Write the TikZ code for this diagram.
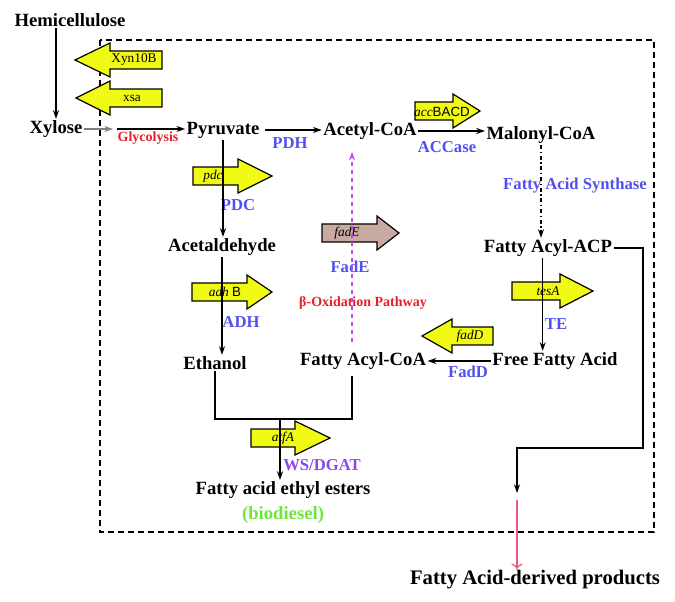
\documentclass[tikz,border=0pt]{standalone}
\usepackage{fontspec}
\setmainfont{Liberation Serif}
\newfontfamily\genesf{Liberation Sans}
\usepackage{tikz}
\usetikzlibrary{arrows.meta, positioning, calc}
\definecolor{enzblue}{RGB}{80,80,240}
\definecolor{pathred}{RGB}{230,30,40}
\definecolor{geneyellow}{RGB}{240,250,20}
\definecolor{fadbrown}{RGB}{200,170,160}
\definecolor{betaviolet}{RGB}{190,70,255}
\definecolor{wsviolet}{RGB}{140,70,240}
\definecolor{biogreen}{RGB}{110,230,60}
\definecolor{outred}{RGB}{235,90,120}

% gene arrow: tail x, neck x, tip x, middle y, fill
\newcommand{\genearrow}[5]{%
  \filldraw[fill=#5, draw=black, line width=0.9pt, line join=miter]
    ({#1},{#4-9}) -- ({#2},{#4-9}) -- ({#2},{#4-17}) -- ({#3},{#4})
    -- ({#2},{#4+17}) -- ({#2},{#4+9}) -- ({#1},{#4+9}) -- cycle;}

\begin{document}
\begin{tikzpicture}[x=0.75pt, y=-0.75pt,
  met/.style={font=\fontsize{14}{16}\selectfont\bfseries, inner sep=1pt},
  enz/.style={font=\fontsize{12.5}{14}\selectfont\bfseries, text=enzblue, inner sep=0pt},
  path/.style={font=\fontsize{10.5}{12}\selectfont\bfseries, text=pathred, inner sep=0pt},
  gene/.style={font=\fontsize{10}{12}\selectfont, inner sep=0pt},
  flux/.style={line width=1pt, -{Stealth[length=6.5pt, width=4.5pt]}},
  link/.style={line width=1pt}]
\useasboundingbox (0,0) rectangle (675,602);

% engineered cell
\draw[dashed, line width=1pt, dash pattern=on 4.5pt off 3pt] (100,40) rectangle (654,532);

% gene arrows
\genearrow{162}{110}{75}{60}{geneyellow}
\genearrow{162}{110}{76}{98}{geneyellow}
\genearrow{415}{453}{480}{111}{geneyellow}
\genearrow{193}{238}{272}{176}{geneyellow}
\genearrow{192}{247}{272}{292}{geneyellow}
\genearrow{322}{377}{399}{233}{fadbrown}
\genearrow{512}{560}{593}{291}{geneyellow}
\genearrow{493}{452}{422}{336}{geneyellow}
\genearrow{251}{295}{330}{438}{geneyellow}

\node[gene] (xyn) at (134,60) {Xyn10B};
\node[gene] (xsa) at (132,98) {xsa};
\node[gene] (acc) at (442,112) {\textit{acc}{\genesf BACD}};
\node[gene] (pdc) at (213,176) {\textit{pdc}};
\node[gene] (adh) at (225,292) {\textit{adh} {\genesf B}};
\node[gene] (fade) at (347,233) {\textit{fadE}};
\node[gene] (tesa) at (548,291) {\textit{tesA}};
\node[gene] (fadd) at (470,336) {\textit{fadD}};
\node[gene] (atfa) at (283,438) {\textit{atfA}};

% metabolites
\node[met] (hemi) at (70,20) {Hemicellulose};
\node[met] (xyl) at (56,129) {Xylose};
\node[met] (pyr) at (223,130) {Pyruvate};
\node[met] (acoa) at (370,131) {Acetyl-CoA};
\node[met] (mcoa) at (541,135) {Malonyl-CoA};
\node[met] (acp) at (548,248) {Fatty Acyl-ACP};
\node[met] (ffa) at (555,361) {Free Fatty Acid};
\node[met] (facoa) at (363,361) {Fatty Acyl-CoA};
\node[met] (acald) at (222,247) {Acetaldehyde};
\node[met] (etoh) at (215,363) {Ethanol};
\node[met] (faee) at (283,490) {Fatty acid ethyl esters};
\node[met, text=biogreen] (bio) at (283,515) {(biodiesel)};
\node[met, font=\fontsize{15.5}{18}\selectfont\bfseries] (prod) at (535,580) {Fatty Acid-derived products};

% enzymes and pathways
\node[path] (glyc) at (148,138) {Glycolysis};
\node[enz] (pdh) at (290,143) {PDH};
\node[enz] (accase) at (447,147) {ACCase};
\node[enz] (fas) at (575,186) {Fatty Acid Synthase};
\node[enz] (pdcl) at (238,205) {PDC};
\node[enz] (adhl) at (241,322) {ADH};
\node[enz] (fadel) at (350,267) {FadE};
\node[path] (beta) at (363,303) {β-Oxidation Pathway};
\node[enz] (te) at (556,324) {TE};
\node[enz] (faddl) at (468,372) {FadD};
\node[enz, text=wsviolet] (ws) at (322,465) {WS/DGAT};

% helper points
\coordinate (gly1) at (113,129);
\coordinate (gly2) at (117,129);
\coordinate (betax) at (352,0);
\coordinate (join) at (280,419);
\coordinate (bend) at (643,448);
\coordinate (drop) at (517,493);
\coordinate (leak) at (517,500);

% reactions
\draw[flux] (hemi.south -| xyl.north) -- (xyl.north);
\draw[flux, draw=gray, fill=gray] (xyl.east) -- (gly1);
\draw[flux] (gly2) -- (gly2 -| pyr.west);
\draw[flux, shorten <=3pt] (pyr.east) -- (pyr.east -| acoa.west);
\draw[flux] (acoa.east) -- (acoa.east -| mcoa.west);
\draw[flux, dash dot] (mcoa.south) -- (mcoa.south |- acp.north);
\draw[flux] ([xshift=-4pt]acp.south) -- ([xshift=-4pt]acp.south |- ffa.north);
\draw[flux] (ffa.west) -- (facoa.east);
\draw[flux] (pyr.south) -- (pyr.south |- acald.north);
\draw[flux] (acald.south) -- (acald.south |- etoh.north);
\draw[flux, draw=betaviolet, dashed, shorten <=7pt, shorten >=8pt] (facoa.north -| betax) -- (acoa.south -| betax);
\draw[link] (etoh.south) |- (join) -| ([yshift=-4pt]facoa.south -| betax);
\draw[flux] (join) -- (join |- faee.north);
\draw[flux] (acp.east) -| (bend) -- (bend -| drop) -- (drop);
\draw[outred, line width=0.9pt, -{To[length=4pt]}] (leak) -- (prod.north -| leak);
\end{tikzpicture}
\end{document}
